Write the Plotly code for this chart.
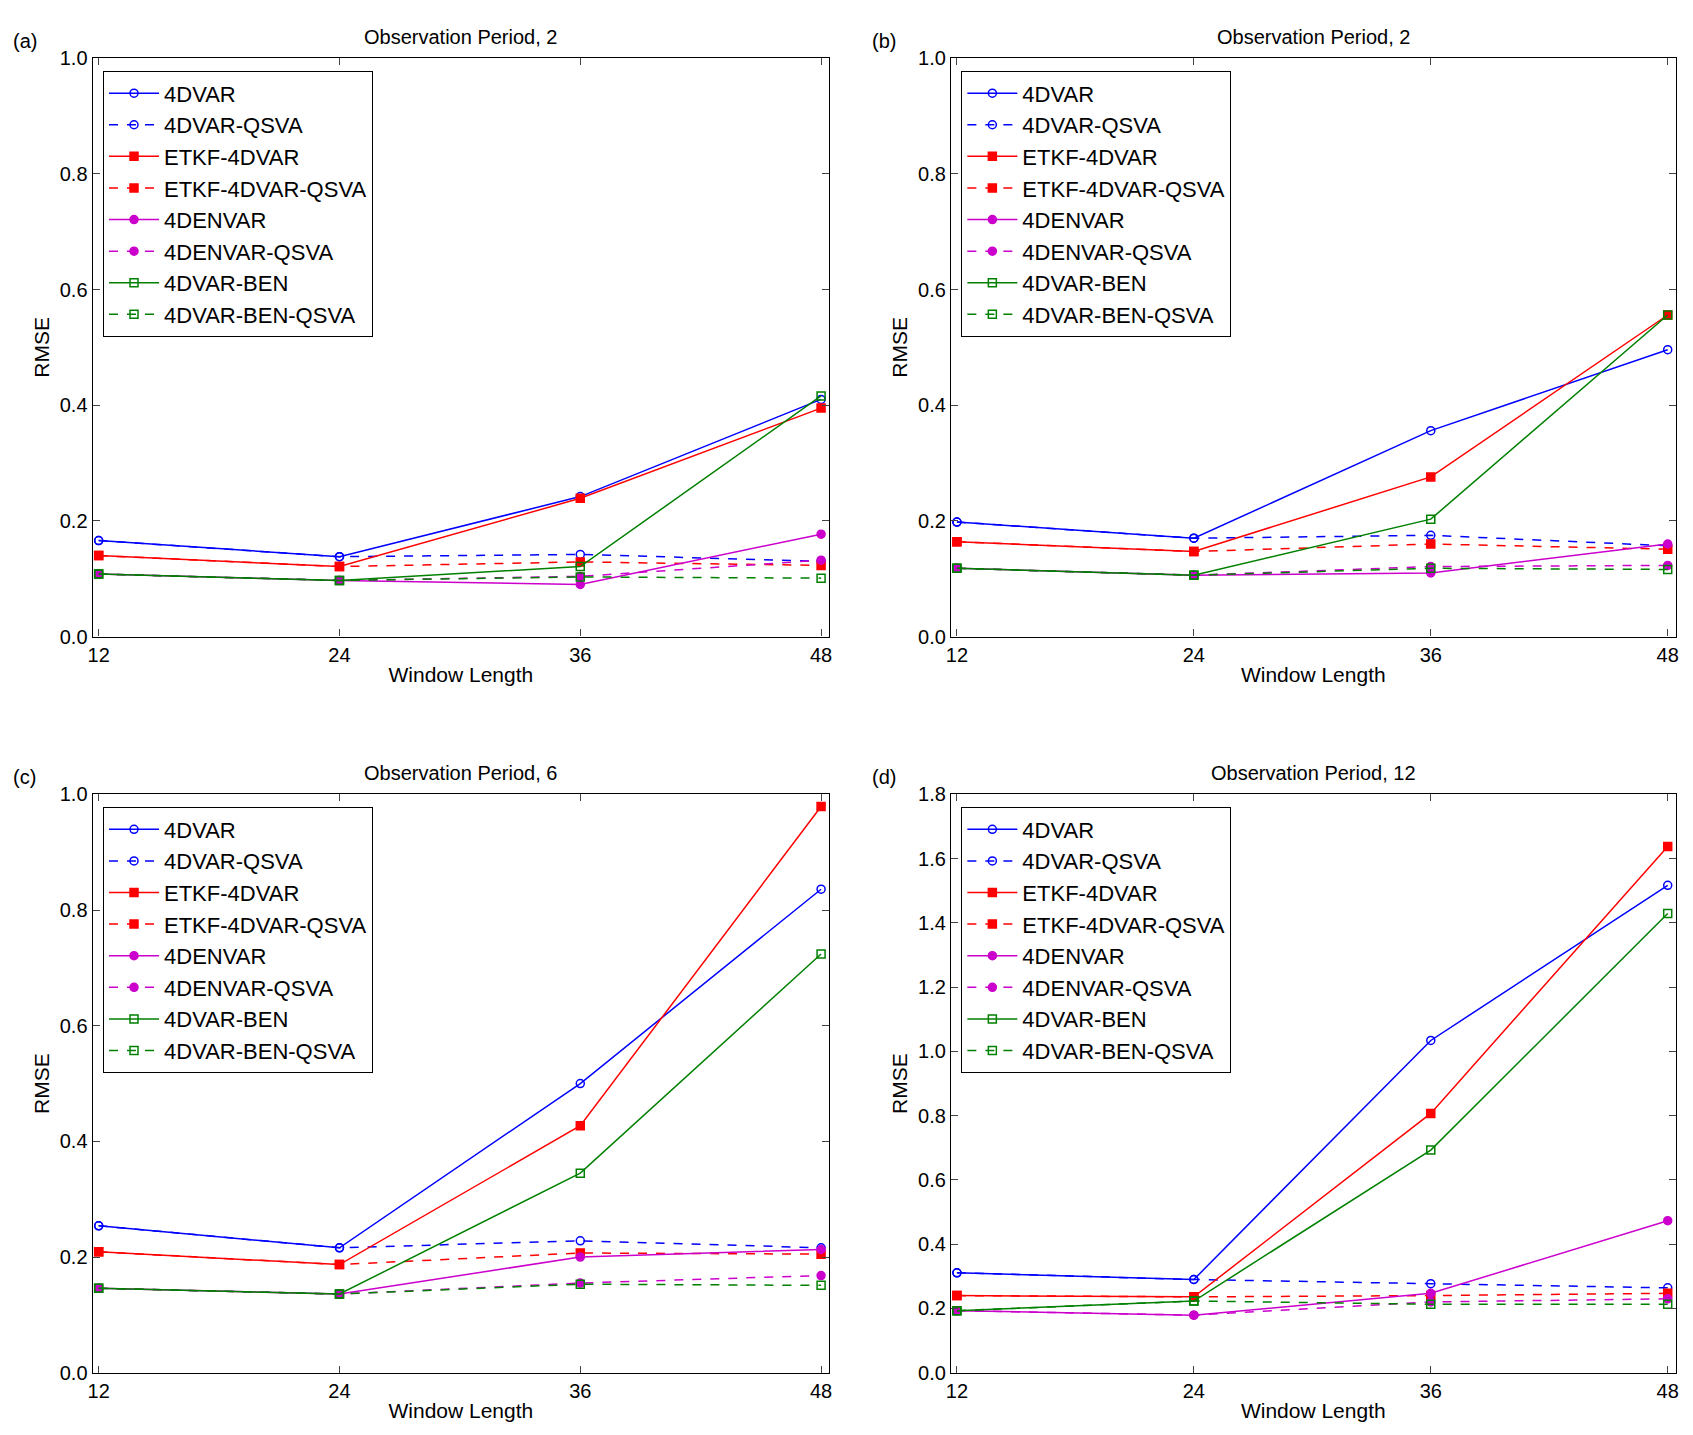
import plotly.graph_objects as go
from plotly.subplots import make_subplots

windows = [12, 24, 36, 48]
names = ['4DVAR', '4DVAR-QSVA', 'ETKF-4DVAR', 'ETKF-4DVAR-QSVA',
         '4DENVAR', '4DENVAR-QSVA', '4DVAR-BEN', '4DVAR-BEN-QSVA']

# rmse values read per panel, same order as names
rmse_a = [[0.166, 0.138, 0.242, 0.410], [0.166, 0.138, 0.142, 0.130],
          [0.140, 0.121, 0.239, 0.395], [0.140, 0.121, 0.129, 0.123],
          [0.108, 0.097, 0.090, 0.177], [0.108, 0.097, 0.104, 0.132],
          [0.108, 0.097, 0.121, 0.416], [0.108, 0.097, 0.103, 0.101]]
rmse_b = [[0.198, 0.170, 0.356, 0.496], [0.198, 0.170, 0.175, 0.157],
          [0.164, 0.147, 0.276, 0.556], [0.164, 0.147, 0.160, 0.151],
          [0.118, 0.106, 0.110, 0.160], [0.118, 0.106, 0.121, 0.123],
          [0.118, 0.106, 0.203, 0.556], [0.118, 0.106, 0.118, 0.116]]
rmse_c = [[0.254, 0.216, 0.500, 0.836], [0.254, 0.216, 0.228, 0.216],
          [0.209, 0.187, 0.427, 0.979], [0.209, 0.187, 0.207, 0.205],
          [0.146, 0.136, 0.200, 0.213], [0.146, 0.136, 0.155, 0.168],
          [0.146, 0.136, 0.345, 0.724], [0.146, 0.136, 0.153, 0.151]]
rmse_d = [[0.311, 0.290, 1.034, 1.517], [0.311, 0.290, 0.277, 0.264],
          [0.240, 0.236, 0.807, 1.638], [0.240, 0.236, 0.240, 0.247],
          [0.193, 0.179, 0.247, 0.473], [0.193, 0.179, 0.220, 0.230],
          [0.193, 0.223, 0.693, 1.429], [0.193, 0.223, 0.213, 0.213]]

titles = ['Observation Period, 2', 'Observation Period, 2',
          'Observation Period, 6', 'Observation Period, 12']
panel_tags = ['(a)', '(b)', '(c)', '(d)']

colors = ['blue', 'blue', 'red', 'red', '#cc00cc', '#cc00cc', 'green', 'green']
symbols = ['circle-open', 'circle-open', 'square', 'square',
           'circle', 'circle', 'square-open', 'square-open']
dashes = ['solid', 'dash'] * 4

fig = make_subplots(rows=2, cols=2)
panels = [rmse_a, rmse_b, rmse_c, rmse_d]
xdom = [[0.05, 0.485], [0.557, 0.985], [0.05, 0.485], [0.557, 0.985]]
ydom = [[0.562, 0.965], [0.562, 0.965], [0.049, 0.452], [0.049, 0.452]]

for p, data in enumerate(panels):
    row, col = p // 2 + 1, p % 2 + 1
    leg = 'legend' if p == 0 else 'legend%d' % (p + 1)
    for k, name in enumerate(names):
        fig.add_trace(go.Scatter(x=windows, y=data[k], name=name, mode='lines+markers',
                                 line=dict(color=colors[k], dash=dashes[k], width=1.5),
                                 marker=dict(symbol=symbols[k], color=colors[k], size=8,
                                             line=dict(color=colors[k], width=1.5)),
                                 legend=leg), row=row, col=col)
    ax = '' if p == 0 else str(p + 1)
    ymax = 1.8 if p == 3 else 1.0
    fig.update_layout({
        'xaxis' + ax: dict(domain=xdom[p], range=[11.7, 48.4], tickvals=windows,
                           title=dict(text='Window Length', standoff=2)),
        'yaxis' + ax: dict(domain=ydom[p], range=[0, ymax], dtick=0.2, tickformat='.1f',
                           title=dict(text='RMSE', standoff=4)),
        leg: dict(x=xdom[p][0] + 0.006, y=ydom[p][1] - 0.009, xanchor='left', yanchor='top',
                  bgcolor='white', bordercolor='black', borderwidth=1.2,
                  font=dict(size=22), tracegroupgap=0, itemwidth=50),
    })
    fig.add_annotation(text=titles[p], x=sum(xdom[p]) / 2, y=ydom[p][1] + 0.006,
                       xref='paper', yref='paper', xanchor='center', yanchor='bottom',
                       showarrow=False, font=dict(size=20))
    fig.add_annotation(text=panel_tags[p], x=xdom[p][0] - 0.048, y=ydom[p][1] + 0.003,
                       xref='paper', yref='paper', xanchor='left', yanchor='bottom',
                       showarrow=False, font=dict(size=20))

fig.update_xaxes(showline=True, mirror='ticks', linecolor='black', linewidth=1.2,
                 ticks='inside', ticklen=7, showgrid=False, zeroline=False, automargin=False,
                 tickfont=dict(size=20), title_font=dict(size=21))
fig.update_yaxes(showline=True, mirror='ticks', linecolor='black', linewidth=1.2,
                 ticks='inside', ticklen=7, showgrid=False, zeroline=False, automargin=False,
                 tickfont=dict(size=20), title_font=dict(size=21))
fig.update_layout(width=1693, height=1435, plot_bgcolor='white', paper_bgcolor='white',
                  margin=dict(l=0, r=0, t=0, b=0),
                  font=dict(family='Liberation Sans', color='black'))

fig.write_html("out.html")
